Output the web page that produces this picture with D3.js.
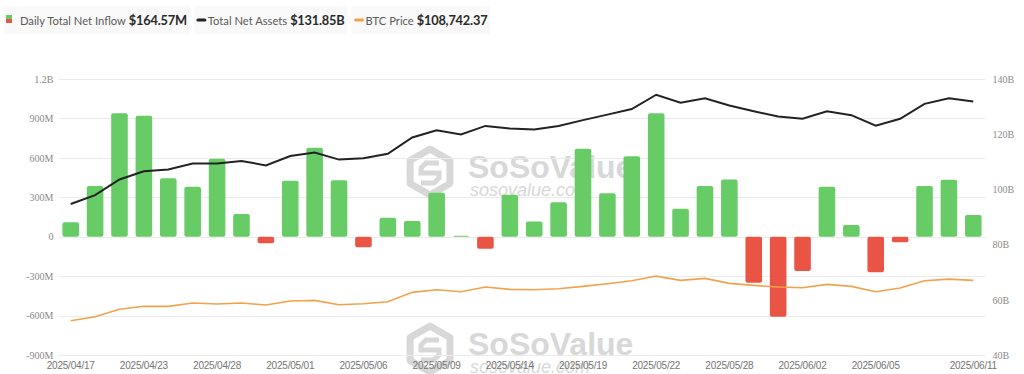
<!DOCTYPE html>
<html>
<head>
<meta charset="utf-8">
<script src="https://cdn.jsdelivr.net/npm/d3@7/dist/d3.min.js"></script>
<style>
  body { margin: 0; background: #fff; }
  svg { display: block; }
  .grid line { stroke: #ebebeb; stroke-width: 1; }
  .axis-left text, .axis-right text { font-family: 'Liberation Serif', serif; font-size: 10px; fill: #8a8a8a; }
  .axis-x text { font-family: 'Liberation Sans', Arial, sans-serif; font-size: 10px; fill: #757575; letter-spacing: -0.2px; }
</style>
</head>
<body>
<script>
// trading days shown on the chart
var dates = ['2025/04/17','2025/04/21','2025/04/22','2025/04/23','2025/04/24','2025/04/25',
  '2025/04/28','2025/04/29','2025/04/30','2025/05/01','2025/05/02','2025/05/05','2025/05/06',
  '2025/05/07','2025/05/08','2025/05/09','2025/05/12','2025/05/13','2025/05/14','2025/05/15',
  '2025/05/16','2025/05/19','2025/05/20','2025/05/21','2025/05/22','2025/05/23','2025/05/27',
  '2025/05/28','2025/05/29','2025/05/30','2025/06/02','2025/06/03','2025/06/04','2025/06/05',
  '2025/06/06','2025/06/09','2025/06/10','2025/06/11'];

// daily total net inflow, millions USD
var netInflow = [110, 386, 939, 921, 444, 381, 594, 173, -50, 426, 677, 429, -81,
  145, 119, 335, 7, -91, 320, 115, 262, 670, 330, 612, 939, 213, 386,
  436, -350, -609, -261, 381, 89, -271, -43, 386, 434, 164.57];

// total net assets, billions USD
var netAssets = [94.7, 97.9, 103.6, 106.6, 107.2, 109.4, 109.4, 110.3, 108.7, 112.1, 113.4, 110.8, 111.3,
  112.9, 118.8, 121.4, 119.9, 123.0, 122.1, 121.7, 123.0, 125.1, 127.1, 129.1, 134.3, 131.4, 133.0,
  130.4, 128.3, 126.4, 125.6, 128.3, 126.9, 123.1, 125.6, 131.0, 133.0, 131.85];

// BTC price, USD
var btcPrice = [84780, 87150, 91540, 93320, 93320, 95280, 94690, 95280, 94090, 96470, 96880, 94270, 94860,
  96050, 101620, 103170, 101980, 104770, 103400, 103170, 103760, 105180, 106730, 108500, 111290, 108740, 109930,
  106960, 105780, 104770, 104350, 106370, 105180, 101980, 104180, 108500, 109510, 108742.37];

// axis ticks
var leftTicks = [1200, 900, 600, 300, 0, -300, -600, -900];
var leftTickLabels = ['1.2B', '900M', '600M', '300M', '0', '-300M', '-600M', '-900M'];
var rightTicks = [140, 120, 100, 80, 60, 40];
var xTickDates = ['2025/04/17','2025/04/23','2025/04/28','2025/05/01','2025/05/06','2025/05/09',
  '2025/05/14','2025/05/19','2025/05/22','2025/05/28','2025/06/02','2025/06/05','2025/06/11'];

// legend
var legendLabels = ['Daily Total Net Inflow', 'Total Net Assets', 'BTC Price'];
var legendValues = ['$164.57M', '$131.85B', '$108,742.37'];

// colors
var upColor = '#68cc66';
var downColor = '#ea5444';
var assetsColor = '#222222';
var btcColor = '#f0a24c';
var markColor = '#d8d8d8';

// dimensions
var W = 1024, H = 374;
var margin = {top: 79, right: 38.5, bottom: 19, left: 58.5};
var w = W - margin.left - margin.right;
var h = H - margin.top - margin.bottom;

var svg = d3.select('body').append('svg')
            .attr('width', W)
            .attr('height', H);

// watermarks go underneath everything
function watermark(cx, cy) {
  var g = svg.append('g').attr('class', 'watermark');
  var r = 23;
  var hex = d3.range(6).map(function(i) {
    var a = Math.PI / 3 * i - Math.PI / 2;
    return [cx + r * Math.cos(a), cy + r * Math.sin(a)];
  });
  g.append('polygon')
   .attr('points', hex.join(' '))
   .attr('fill', 'none')
   .attr('stroke', markColor)
   .attr('stroke-width', 7)
   .attr('stroke-linejoin', 'round');
  // stylised S inside the cube
  g.append('path')
   .attr('d', 'M' + (cx + 9) + ',' + (cy - 9) + ' L' + (cx - 4) + ',' + (cy - 9) +
              ' L' + (cx - 9) + ',' + (cy - 4) + ' L' + (cx - 9) + ',' + (cy + 1) +
              ' L' + (cx + 9) + ',' + (cy + 1) + ' L' + (cx + 9) + ',' + (cy + 6) +
              ' L' + (cx + 4) + ',' + (cy + 11) + ' L' + (cx - 9) + ',' + (cy + 11))
   .attr('fill', 'none')
   .attr('stroke', markColor)
   .attr('stroke-width', 5);
  g.append('text')
   .attr('x', cx + 38)
   .attr('y', cy + 6)
   .attr('font-family', 'Liberation Sans, Arial, sans-serif')
   .attr('font-weight', 'bold')
   .attr('font-size', 32)
   .attr('fill', markColor)
   .text('SoSoValue');
  g.append('text')
   .attr('x', cx + 40)
   .attr('y', cy + 24)
   .attr('font-family', 'Liberation Sans, Arial, sans-serif')
   .attr('font-style', 'italic')
   .attr('font-size', 18)
   .attr('fill', markColor)
   .text('sosovalue.com');
}
watermark(430, 172);
watermark(430, 349);

var focus = svg.append('g')
               .attr('transform', 'translate(' + margin.left + ',' + margin.top + ')');

// scales
var xScale = d3.scaleBand().domain(dates).range([0, w]).paddingInner(0.32).paddingOuter(0.16);
var yLeft = d3.scaleLinear().domain([-900, 1200]).range([h, 0]);
var yRight = d3.scaleLinear().domain([40, 140]).range([h, 0]);
var yBtc = d3.scaleLinear().domain([64400, 228400]).range([h, 0]); // hidden axis

// gridlines
focus.append('g')
     .attr('class', 'grid')
     .selectAll('line')
     .data(leftTicks)
     .enter()
     .append('line')
     .attr('x1', 0)
     .attr('x2', w)
     .attr('y1', function(d) { return Math.round(yLeft(d)) + 0.5; })
     .attr('y2', function(d) { return Math.round(yLeft(d)) + 0.5; });

// left axis
var leftAxis = d3.axisLeft(yLeft)
                 .tickValues(leftTicks)
                 .tickSize(0)
                 .tickPadding(5)
                 .tickFormat(function(d, i) { return leftTickLabels[i]; });
focus.append('g')
     .attr('class', 'axis-left')
     .call(leftAxis)
     .call(function(g) { g.select('.domain').remove(); });

// right axis
var rightAxis = d3.axisRight(yRight)
                  .tickValues(rightTicks)
                  .tickSize(0)
                  .tickPadding(7)
                  .tickFormat(function(d) { return d + 'B'; });
focus.append('g')
     .attr('class', 'axis-right')
     .attr('transform', 'translate(' + w + ',0)')
     .call(rightAxis)
     .call(function(g) { g.select('.domain').remove(); });

// x axis
var xAxis = d3.axisBottom(xScale)
              .tickValues(xTickDates)
              .tickSize(0)
              .tickPadding(7);
focus.append('g')
     .attr('class', 'axis-x')
     .attr('transform', 'translate(0,' + h + ')')
     .call(xAxis)
     .call(function(g) { g.select('.domain').remove(); });

// bars
focus.append('g')
     .selectAll('rect')
     .data(netInflow)
     .enter()
     .append('rect')
     .attr('x', function(d, i) { return xScale(dates[i]); })
     .attr('width', xScale.bandwidth())
     .attr('y', function(d) { return yLeft(Math.max(0, d)); })
     .attr('height', function(d) { return Math.max(0.8, Math.abs(yLeft(d) - yLeft(0))); })
     .attr('rx', 2)
     .attr('fill', function(d) { return d >= 0 ? upColor : downColor; });

// lines
var assetsLine = d3.line()
                   .x(function(d, i) { return xScale(dates[i]) + xScale.bandwidth() / 2; })
                   .y(function(d) { return yRight(d); });
var btcLine = d3.line()
                .x(function(d, i) { return xScale(dates[i]) + xScale.bandwidth() / 2; })
                .y(function(d) { return yBtc(d); });

focus.append('path')
     .datum(btcPrice)
     .attr('d', btcLine)
     .attr('fill', 'none')
     .attr('stroke', btcColor)
     .attr('stroke-width', 1.6);

focus.append('path')
     .datum(netAssets)
     .attr('d', assetsLine)
     .attr('fill', 'none')
     .attr('stroke', assetsColor)
     .attr('stroke-width', 2);

// legend
var legend = svg.append('g').attr('class', 'legend');
var lx = 4;
legendLabels.forEach(function(label, i) {
  var item = legend.append('g');
  var bg = item.append('rect')
               .attr('x', lx)
               .attr('y', 6)
               .attr('height', 28)
               .attr('fill', '#f9f9f9');
  var start = lx;
  if (i === 0) {
    item.append('rect').attr('x', lx + 2).attr('y', 15).attr('width', 6).attr('height', 4).attr('fill', upColor);
    item.append('rect').attr('x', lx + 2).attr('y', 19).attr('width', 6).attr('height', 4).attr('fill', downColor);
    lx += 16;
  } else {
    item.append('line')
        .attr('x1', lx + 4).attr('x2', lx + 11)
        .attr('y1', 20).attr('y2', 20)
        .attr('stroke', i === 1 ? assetsColor : btcColor)
        .attr('stroke-width', 3)
        .attr('stroke-linecap', 'round');
    lx += 14;
  }
  var t = item.append('text')
              .attr('x', lx)
              .attr('y', 25)
              .attr('font-family', 'Lato, sans-serif')
              .attr('font-size', 11.2)
              .attr('fill', '#5a5a5a')
              .text(label);
  lx += t.node().getComputedTextLength() + 3;
  var v = item.append('text')
              .attr('x', lx)
              .attr('y', 25)
              .attr('font-family', 'Lato, sans-serif')
              .attr('font-weight', 'bold')
              .attr('font-size', 12.8)
              .attr('letter-spacing', -0.2)
              .attr('fill', '#2a2a2a')
              .text(legendValues[i]);
  lx += v.node().getComputedTextLength() + 3;
  bg.attr('width', lx - start);
  lx += 4;
});
</script>
</body>
</html>
